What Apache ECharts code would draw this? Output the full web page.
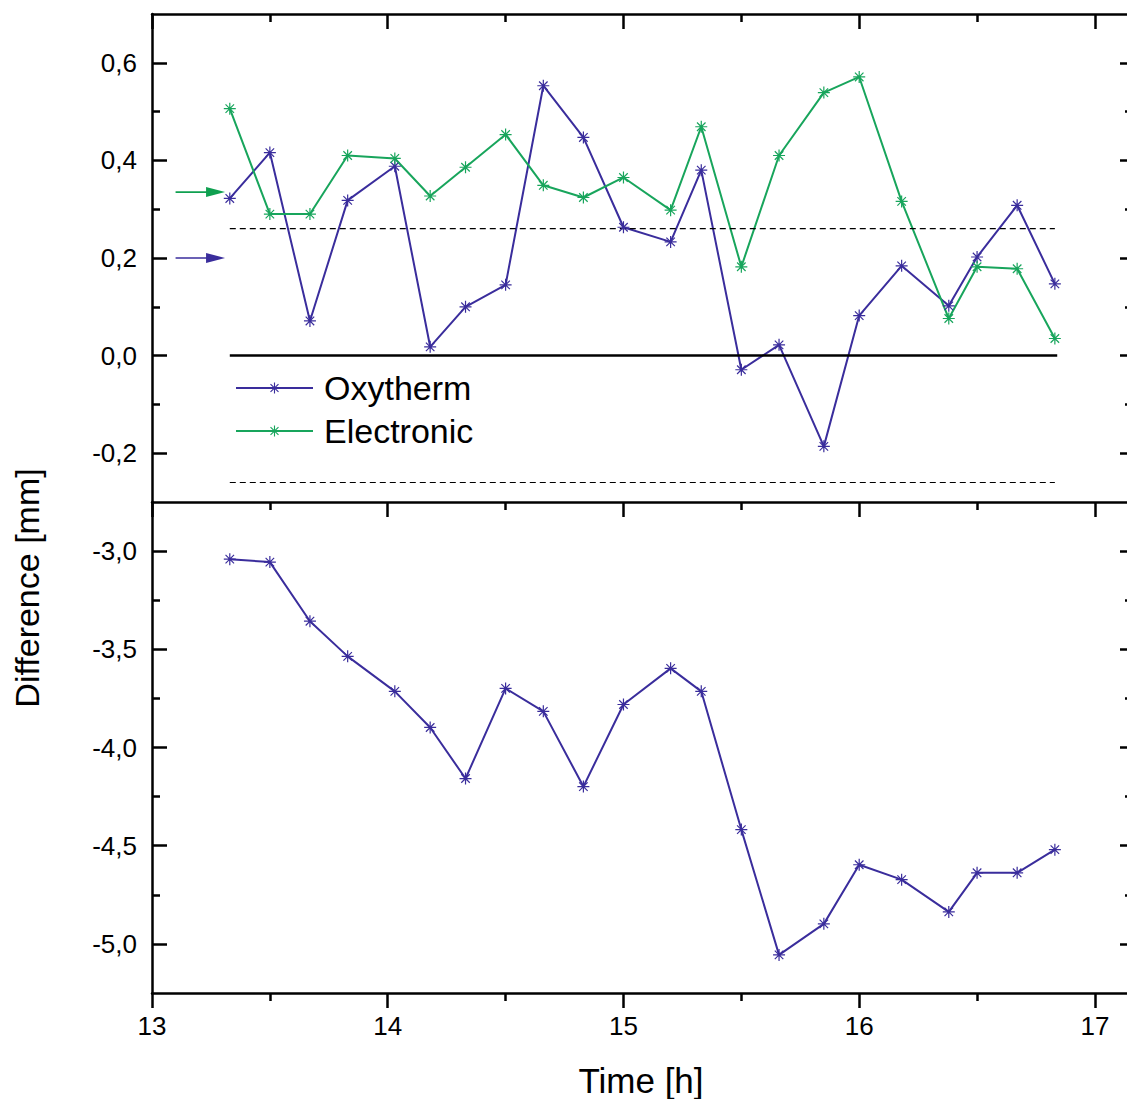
<!DOCTYPE html>
<html>
<head>
<meta charset="utf-8">
<script src="https://cdn.jsdelivr.net/npm/echarts@6/dist/echarts.min.js"></script>
<style>
html,body{margin:0;padding:0;background:#fff;}
#chart{width:1127px;height:1099px;}
</style>
</head>
<body>
<div id="chart"></div>
<script>
// ---- data ----
const times = [13.33,13.50,13.67,13.83,14.03,14.18,14.33,14.50,14.66,14.83,15.00,15.20,15.33,15.50,15.66,15.85,16.00,16.18,16.38,16.50,16.67,16.83];
const oxythermTop = [0.322,0.416,0.071,0.318,0.388,0.018,0.100,0.145,0.553,0.447,0.263,0.233,0.380,-0.029,0.022,-0.186,0.082,0.184,0.102,0.202,0.308,0.147];
const electronicTop = [0.506,0.290,0.290,0.410,0.404,0.327,0.386,0.453,0.349,0.324,0.365,0.298,0.469,0.182,0.410,0.539,0.571,0.316,0.076,0.182,0.178,0.035];
const oxythermBottom = [-3.041,-3.056,-3.357,-3.536,-3.714,-3.898,-4.158,-3.699,-3.816,-4.199,-3.781,-3.597,-3.714,-4.418,-5.056,-4.898,-4.597,-4.673,-4.837,-4.638,-4.638,-4.520];
const zeroLine = [[13.33,0],[16.84,0]];
const limitUpper = [[13.33,0.26],[16.83,0.26]];
const limitLower = [[13.33,-0.26],[16.83,-0.26]];
const arrowStartX = [13.10,13.10];
const arrowEndX = [13.31,13.31];
const arrowY = [0.335,0.20];
const xMajor = [13,14,15,16,17];
const xMinor = [13.5,14.5,15.5,16.5];
const yTopMajor = [-0.2,0,0.2,0.4,0.6];
const yTopMinor = [-0.1,0.1,0.3,0.5];
const yBotMajor = [-5,-4.5,-4,-3.5,-3];
const yBotMinor = [-4.75,-4.25,-3.75,-3.25];

// ---- style ----
const BLUE = '#3a2d9c';
const GREEN = '#18a55c';
const ARROW_COLORS = ['#0fa050', BLUE];
const FONT = '"Liberation Sans", Arial, Helvetica, sans-serif';
const X_MAX = 17.136;

const fmt = v => (Math.abs(v) < 1e-9 ? '0,0' : v.toFixed(1).replace('.', ','));

const starPath = 'path://M-10,-1L10,-1L10,1L-10,1Z M-1,-10L1,-10L1,10L-1,10Z M-7.8,-6.4L-6.4,-7.8L7.8,6.4L6.4,7.8Z M-6.4,7.8L-7.8,6.4L6.4,-7.8L7.8,-6.4Z';

const zip = (xs, ys) => xs.map((x, i) => [x, ys[i]]);

function xAx(grid, pos, vals, len, labels, showLine) {
  return {
    type: 'value', gridIndex: grid, position: pos, min: 13, max: X_MAX,
    axisLine: {show: showLine, onZero: false, lineStyle: {color: '#000', width: 2.5}},
    axisTick: {show: true, inside: pos === 'top', length: len, customValues: vals, lineStyle: {color: '#000', width: 2.5}},
    axisLabel: labels ? {show: true, customValues: vals, margin: 20, color: '#000', fontSize: 26, fontFamily: FONT} : {show: false},
    splitLine: {show: false}
  };
}
function yAx(grid, pos, min, max, vals, len, labels, showLine) {
  return {
    type: 'value', gridIndex: grid, position: pos, min: min, max: max,
    axisLine: {show: showLine, onZero: false, lineStyle: {color: '#000', width: 2.5}},
    axisTick: {show: true, inside: true, length: len, customValues: vals, lineStyle: {color: '#000', width: 2.5}},
    axisLabel: labels ? {show: true, customValues: vals, margin: 15, color: '#000', fontSize: 26, fontFamily: FONT, formatter: fmt} : {show: false},
    splitLine: {show: false}
  };
}

const option = {
  animation: false,
  backgroundColor: '#fff',
  grid: [
    {left: 152, top: 14, right: 0, height: 488},
    {left: 152, top: 502, right: 0, height: 491}
  ],
  xAxis: [
    xAx(0, 'bottom', xMajor, 15, false, true),
    xAx(0, 'bottom', xMinor, 8, false, false),
    xAx(0, 'top', xMajor, 15, false, true),
    xAx(0, 'top', xMinor, 8, false, false),
    xAx(1, 'bottom', xMajor, 15, true, true),
    xAx(1, 'bottom', xMinor, 8, false, false)
  ],
  yAxis: [
    yAx(0, 'left', -0.3, 0.7, yTopMajor, 15, true, true),
    yAx(0, 'left', -0.3, 0.7, yTopMinor, 8, false, false),
    yAx(0, 'right', -0.3, 0.7, yTopMajor, 7, false, false),
    yAx(0, 'right', -0.3, 0.7, yTopMinor, 2, false, false),
    yAx(1, 'left', -5.25, -2.75, yBotMajor, 15, true, true),
    yAx(1, 'left', -5.25, -2.75, yBotMinor, 8, false, false),
    yAx(1, 'right', -5.25, -2.75, yBotMajor, 7, false, false),
    yAx(1, 'right', -5.25, -2.75, yBotMinor, 2, false, false)
  ],
  legend: {
    data: ['Oxytherm', 'Electronic'],
    orient: 'vertical', left: 230, top: 366,
    itemWidth: 77, itemHeight: 14, itemGap: 9,
    textStyle: {fontSize: 34, fontFamily: FONT, color: '#000', lineHeight: 34, padding: [0, 0, 0, 6]}
  },
  series: [
    {name: 'Oxytherm', type: 'line', xAxisIndex: 0, yAxisIndex: 0, data: zip(times, oxythermTop),
     symbol: starPath, symbolSize: 12, color: BLUE, lineStyle: {color: BLUE, width: 2}, itemStyle: {color: BLUE}},
    {name: 'Electronic', type: 'line', xAxisIndex: 0, yAxisIndex: 0, data: zip(times, electronicTop),
     symbol: starPath, symbolSize: 12, color: GREEN, lineStyle: {color: GREEN, width: 2}, itemStyle: {color: GREEN}},
    {name: 'Oxytherm', type: 'line', xAxisIndex: 4, yAxisIndex: 4, data: zip(times, oxythermBottom),
     symbol: starPath, symbolSize: 12, color: BLUE, lineStyle: {color: BLUE, width: 2}, itemStyle: {color: BLUE}},
    {name: 'zero', type: 'line', xAxisIndex: 0, yAxisIndex: 0, data: zeroLine, symbol: 'none',
     lineStyle: {color: '#000', width: 2.5}, z: 5},
    {name: 'upper', type: 'line', xAxisIndex: 0, yAxisIndex: 0, data: limitUpper, symbol: 'none',
     lineStyle: {color: '#000', width: 1.2, type: [6, 4]}},
    {name: 'lower', type: 'line', xAxisIndex: 0, yAxisIndex: 0, data: limitLower, symbol: 'none',
     lineStyle: {color: '#000', width: 1.2, type: [6, 4]}},
    {name: 'arrows', type: 'custom', xAxisIndex: 0, yAxisIndex: 0,
     data: arrowY.map((y, i) => [arrowStartX[i], arrowEndX[i], y]),
     encode: {x: [0, 1], y: 2},
     renderItem: function (params, api) {
       const p1 = api.coord([api.value(0), api.value(2)]);
       const p2 = api.coord([api.value(1), api.value(2)]);
       const c = ARROW_COLORS[params.dataIndex];
       const head = 19;
       return {
         type: 'group',
         children: [
           {type: 'line', shape: {x1: p1[0], y1: p1[1], x2: p2[0] - head + 2, y2: p2[1]}, style: {stroke: c, lineWidth: 1.6}},
           {type: 'polygon', shape: {points: [[p2[0] - head, p2[1] - 5], [p2[0], p2[1]], [p2[0] - head, p2[1] + 5]]}, style: {fill: c}}
         ]
       };
     }}
  ],
  graphic: [
    {type: 'text', x: 27, y: 588, rotation: Math.PI / 2, style: {text: 'Difference [mm]', font: '34px ' + FONT, fill: '#000', align: 'center', verticalAlign: 'middle'}},
    {type: 'text', x: 641, y: 1080, style: {text: 'Time [h]', font: '35px ' + FONT, fill: '#000', align: 'center', verticalAlign: 'middle'}}
  ]
};

const chart = echarts.init(document.getElementById('chart'), null, {renderer: 'svg'});
chart.setOption(option);
</script>
</body>
</html>
